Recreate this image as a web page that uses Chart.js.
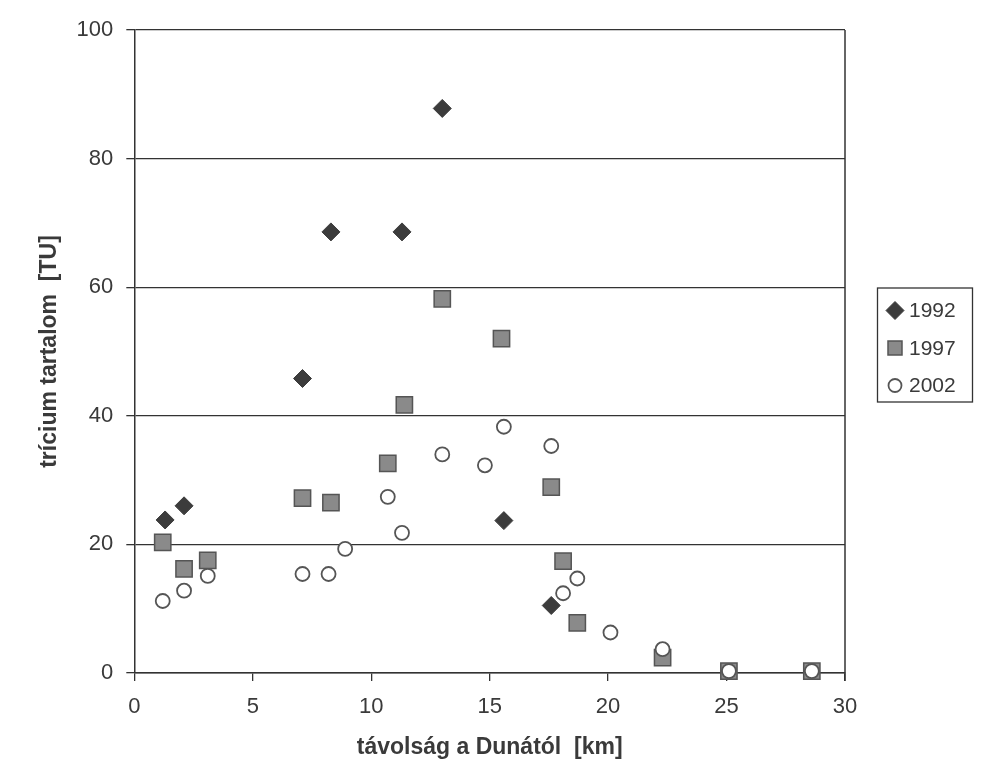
<!DOCTYPE html>
<html>
<head>
<meta charset="utf-8">
<script src="https://cdn.jsdelivr.net/npm/chart.js@4"></script>
<style>
  body { margin: 0; background: #fff; }
  canvas { display: block; }
</style>
</head>
<body>
<canvas id="chart" width="986" height="775"></canvas>
<script>
'use strict';

// távolság a Dunától [km] és trícium tartalom [TU], évenként
const x1992 = [1.3, 2.1, 7.1, 8.3, 11.3, 13.0, 15.6, 17.6];
const y1992 = [23.8, 26.0, 45.8, 68.6, 68.6, 87.8, 23.7, 10.5];

const x1997 = [1.2, 2.1, 3.1, 7.1, 8.3, 10.7, 11.4, 13.0, 15.5, 17.6, 18.1, 18.7, 22.3, 25.1, 28.6];
const y1997 = [20.3, 16.2, 17.5, 27.2, 26.5, 32.6, 41.7, 58.2, 52.0, 28.9, 17.4, 7.8, 2.4, 0.3, 0.3];

const x2002 = [1.2, 2.1, 3.1, 7.1, 8.2, 8.9, 10.7, 11.3, 13.0, 14.8, 15.6, 17.6, 18.7, 18.1, 20.1, 22.3, 25.1, 28.6];
const y2002 = [11.2, 12.8, 15.1, 15.4, 15.4, 19.3, 27.4, 21.8, 34.0, 32.3, 38.3, 35.3, 14.7, 12.4, 6.3, 3.7, 0.3, 0.3];

const years = ['1992', '1997', '2002'];
const xTicks = [0, 5, 10, 15, 20, 25, 30];
const yTicks = [0, 20, 40, 60, 80, 100];

const toPoints = (xs, ys) => xs.map((x, i) => ({ x: x, y: ys[i] }));

const textColor = '#3a3a3a';
const lineColor = '#333';

// jelmagyarázat jele
function drawMarker(ctx, style, x, y) {
  ctx.beginPath();
  if (style === 'rectRot') {
    ctx.moveTo(x, y - 9);
    ctx.lineTo(x + 9, y);
    ctx.lineTo(x, y + 9);
    ctx.lineTo(x - 9, y);
    ctx.closePath();
  } else if (style === 'rect') {
    ctx.rect(x - 7, y - 7, 14, 14);
  } else {
    ctx.arc(x, y, 6.5, 0, Math.PI * 2);
  }
  ctx.fill();
  ctx.stroke();
}

// keret a rajzterület körül + saját jelmagyarázat
const framePlugin = {
  id: 'frame',
  afterDraw(chart) {
    const ctx = chart.ctx;
    const a = chart.chartArea;
    ctx.save();
    ctx.strokeStyle = lineColor;
    ctx.lineWidth = 1.5;
    ctx.beginPath();
    ctx.moveTo(a.right, a.top);
    ctx.lineTo(a.right, a.bottom + 8);
    ctx.stroke();

    const boxLeft = a.right + 32;
    const boxTop = (a.top + a.bottom) / 2 - 64;
    ctx.lineWidth = 1.3;
    ctx.strokeRect(boxLeft + 0.5, boxTop + 0.5, 95, 114);

    ctx.font = '21px "Liberation Sans"';
    ctx.textBaseline = 'middle';
    chart.data.datasets.forEach((ds, i) => {
      const cy = boxTop + 23 + i * 37.5;
      ctx.fillStyle = ds.backgroundColor;
      ctx.strokeStyle = ds.borderColor;
      ctx.lineWidth = ds.borderWidth;
      drawMarker(ctx, ds.pointStyle, boxLeft + 18, cy);
      ctx.fillStyle = textColor;
      ctx.fillText(ds.label, boxLeft + 32, cy + 1);
    });
    ctx.restore();
  },
};

new Chart(document.getElementById('chart'), {
  type: 'scatter',
  data: {
    datasets: [
      {
        label: years[0],
        data: toPoints(x1992, y1992),
        pointStyle: 'rectRot',
        pointRadius: 9,
        backgroundColor: '#3c3c3c',
        borderColor: '#3c3c3c',
        borderWidth: 1,
        clip: false,
        order: 0,
      },
      {
        label: years[1],
        data: toPoints(x1997, y1997),
        pointStyle: 'rect',
        pointRadius: 11.5,
        backgroundColor: '#8a8a8a',
        borderColor: '#555',
        borderWidth: 1.5,
        clip: false,
        order: 2,
      },
      {
        label: years[2],
        data: toPoints(x2002, y2002),
        pointStyle: 'circle',
        pointRadius: 7,
        backgroundColor: '#fff',
        borderColor: '#555',
        borderWidth: 1.8,
        clip: false,
        order: 1,
      },
    ],
  },
  options: {
    responsive: false,
    animation: false,
    devicePixelRatio: 1,
    layout: { padding: { left: 36, right: 141, top: 30, bottom: 14 } },
    plugins: {
      tooltip: { enabled: false },
      legend: { display: false },
    },
    scales: {
      x: {
        type: 'linear',
        min: 0,
        max: 30,
        afterBuildTicks: (scale) => { scale.ticks = xTicks.map(v => ({ value: v })); },
        ticks: { color: textColor, padding: 13, font: { family: 'Liberation Sans', size: 22 } },
        grid: { drawOnChartArea: false, tickLength: 8, color: lineColor, lineWidth: 1.3 },
        border: { color: lineColor, width: 1.5 },
        title: {
          display: true,
          text: 'távolság a Dunától  [km]',
          color: textColor,
          padding: { top: 0, bottom: 0 },
          font: { family: 'Liberation Sans', size: 23, weight: 'bold' },
        },
      },
      y: {
        min: 0,
        max: 100,
        afterBuildTicks: (scale) => { scale.ticks = yTicks.map(v => ({ value: v })); },
        ticks: { color: textColor, padding: 13, font: { family: 'Liberation Sans', size: 22 } },
        grid: { color: lineColor, lineWidth: 1.3, tickLength: 8 },
        border: { color: lineColor, width: 1.5 },
        title: {
          display: true,
          text: 'trícium tartalom  [TU]',
          color: textColor,
          padding: { top: 0, bottom: 0 },
          font: { family: 'Liberation Sans', size: 23, weight: 'bold' },
        },
      },
    },
  },
  plugins: [framePlugin],
});
</script>
</body>
</html>
